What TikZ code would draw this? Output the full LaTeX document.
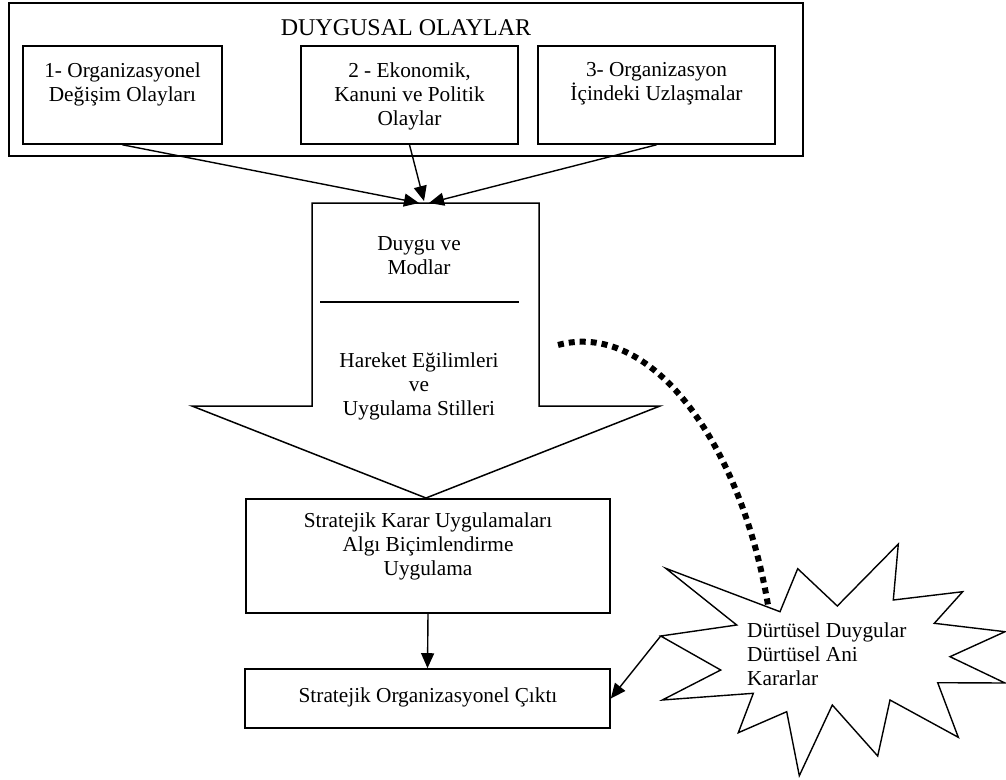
\documentclass[tikz,border=0pt]{standalone}
\usepackage{fontspec}
\setmainfont{Liberation Serif}
\usetikzlibrary{arrows.meta}
\begin{document}
\begin{tikzpicture}[x=1pt,y=-1pt,
  txt/.style={font=\fontsize{21.3}{24}\selectfont, align=center, inner sep=0pt},
  boxd/.style={draw, line width=1.6pt, inner sep=0pt},
  conn/.style={line width=1.4pt, -{Triangle[length=15pt,width=13pt]}},
  burst/.style={draw, line width=1.4pt, line join=miter},
  impulse/.style={line width=6pt, dash pattern=on 6pt off 5pt},
]
\useasboundingbox (0,0) rectangle (1006,779);

% event group
\node[boxd, minimum width=794pt, minimum height=153pt] (grp) at (406,79.5) {};
\node[txt, font=\fontsize{24}{24}\selectfont] (title) at (406,28) {DUYGUSAL OLAYLAR};
\node[boxd, minimum width=199pt, minimum height=98pt] (b1) at (122.5,95) {};
\node[txt] (t1) at (122.5,84) {1- Organizasyonel\\Değişim Olayları};
\node[boxd, minimum width=217pt, minimum height=98pt] (b2) at (409.5,95) {};
\node[txt] (t2) at (409.5,96) {2 - Ekonomik,\\Kanuni ve Politik\\Olaylar};
\node[boxd, minimum width=237pt, minimum height=98pt] (b3) at (656.5,95) {};
\node[txt] (t3) at (656.5,84) {3- Organizasyon\\İçindeki Uzlaşmalar};

% block arrow
\coordinate (in1) at (419,203);
\coordinate (in2) at (424,201);
\coordinate (in3) at (429,203);
\draw[line width=1.5pt] (312,203) -- (539,203) -- (539,406) -- (660,406)
  -- (426,498) -- (192,406) -- (312,406) -- cycle;
\draw[line width=1.3pt] (320,302) -- (519,302);
\node[txt] (mood) at (419,256) {Duygu ve\\Modlar};
\node[txt] (tend) at (419,386) {Hareket Eğilimleri\\ve\\Uygulama Stilleri};

\draw[conn] (b1.south) -- (in1);
\draw[conn] (b2.south) -- (in2);
\draw[conn] (b3.south) -- (in3);

% decision and outcome
\node[boxd, minimum width=364pt, minimum height=114pt] (sk) at (428,556) {};
\node[txt] (skt) at (428,546.5) {Stratejik Karar Uygulamaları\\Algı Biçimlendirme\\Uygulama};
\node[boxd, minimum width=365pt, minimum height=59pt] (out) at (427.5,698.5) {};
\node[txt] (outt) at (428,697) {Stratejik Organizasyonel Çıktı};
\draw[conn] (sk.south) -- (out.north);

% impulse burst
\coordinate (burstL) at (660.7,636);
\coordinate (burstT) at (768,605);
\draw[burst] (burstL) -- (736.7,625) -- (665.7,568.3) -- (780,611.7)
  -- (797.7,568.7) -- (837.3,606) -- (898.3,544) -- (893.3,600)
  -- (962.7,591.7) -- (934.3,623.3) -- (1005,631.7) -- (950,656.7)
  -- (1005,683) -- (937.7,682.7) -- (958.3,737.3) -- (890,700)
  -- (877.7,756) -- (832.3,705) -- (799.3,775.7) -- (786.7,711.7)
  -- (738.3,732.7) -- (753.3,693.3) -- (662.3,700) -- (720.7,670) -- cycle;
\node[txt, align=left, anchor=west] (bt) at (747,654) {Dürtüsel Duygular\\Dürtüsel Ani\\Kararlar};
\draw[conn] (burstL) -- (out.east);

% impulse link
\coordinate (imp) at (558,345);
\draw[impulse] (imp) .. controls (650,320) and (740,440) .. (burstT);
\end{tikzpicture}
\end{document}
